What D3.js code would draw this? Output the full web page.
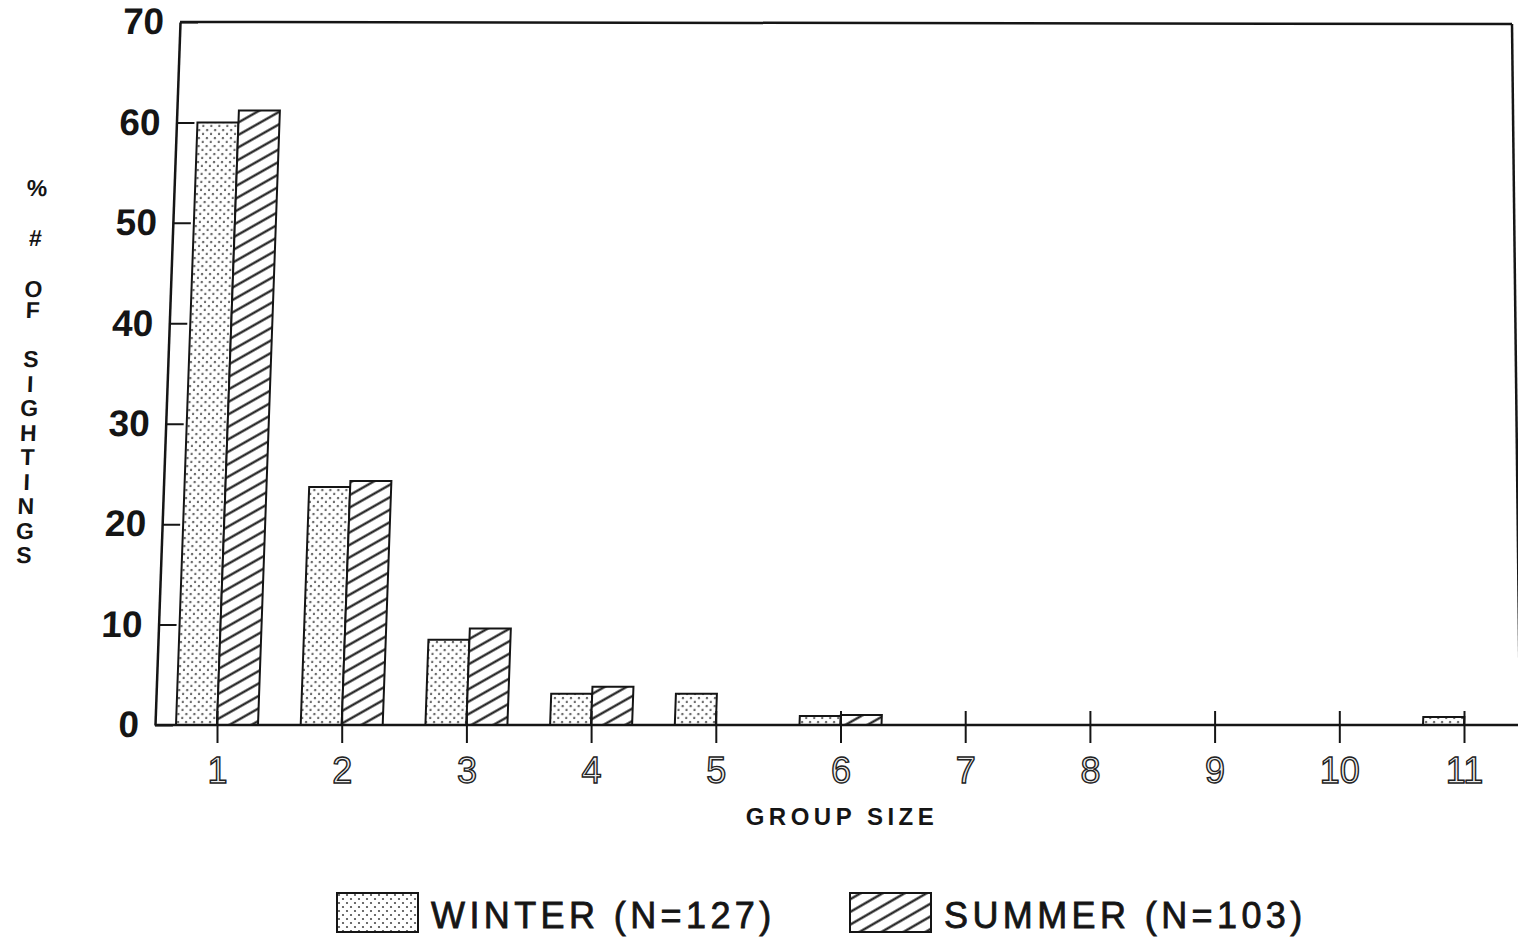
<!DOCTYPE html>
<html>
<head>
<meta charset="utf-8">
<script src="https://cdn.jsdelivr.net/npm/d3@7"></script>
<style>
    body { margin: 0; background: #fff; }
    svg { display: block; }
</style>
</head>
<body>
<div id="chart"></div>
<script>
// ======= Data =======
var groups    = ["1", "2", "3", "4", "5", "6", "7", "8", "9", "10", "11"];
var winterPct = [60.0, 23.7, 8.5, 3.1, 3.1, 0.9, 0, 0, 0, 0, 0.8];
var summerPct = [61.2, 24.3, 9.6, 3.8, 0, 1.0, 0, 0, 0, 0, 0];
var yTicks    = [0, 10, 20, 30, 40, 50, 60, 70];
var yTitle    = ["%", "#", "O", "F", "S", "I", "G", "H", "T", "I", "N", "G", "S"];
var xTitle    = "GROUP SIZE";
var seasons   = ["WINTER (N=127)", "SUMMER (N=103)"];

// ======= Layout =======
var W = 1518, H = 942;
var plotBase = 725, plotTop = 22, plotLeft = 155, plotRight = 1512;
var barW = 41;
var lean = -2.04;   // the scanned original leans a little to the right going up
var font = "'Liberation Sans', Arial, sans-serif";
var ink = "#151515";

var svg = d3.select("#chart").append("svg")
    .attr("width", W)
    .attr("height", H);

// Fill patterns: dots for winter, diagonal hatch for summer
var defs = svg.append("defs");
var dots = defs.append("pattern")
    .attr("id", "dots")
    .attr("patternUnits", "userSpaceOnUse")
    .attr("width", 8).attr("height", 8);
dots.append("rect").attr("width", 8).attr("height", 8).attr("fill", "#fff");
dots.append("circle").attr("cx", 2).attr("cy", 2).attr("r", 1.1).attr("fill", "#4a4a4a");
dots.append("circle").attr("cx", 6).attr("cy", 6).attr("r", 1.1).attr("fill", "#4a4a4a");

var hatch = defs.append("pattern")
    .attr("id", "hatch")
    .attr("patternUnits", "userSpaceOnUse")
    .attr("width", 11).attr("height", 11)
    .attr("patternTransform", "rotate(-30)");
hatch.append("rect").attr("width", 11).attr("height", 11).attr("fill", "#fff");
hatch.append("line")
    .attr("x1", 0).attr("x2", 11).attr("y1", 5.5).attr("y2", 5.5)
    .attr("stroke", ink).attr("stroke-width", 2.2);

var fills = ["url(#dots)", "url(#hatch)"];

// Scales
var x = d3.scalePoint().domain(groups).range([217, 1464]);
var y = d3.scaleLinear().domain([0, 70]).range([plotBase, plotTop]);

// Skewed group (left axis, bars, y title)
var g = svg.append("g")
    .attr("transform", "translate(0," + plotBase + ") skewX(" + lean + ") translate(0," + (-plotBase) + ")");
var shift = Math.tan(-lean * Math.PI / 180) * (plotBase - plotTop);

// Bars
var rows = groups.map(function(d, i) {
    return {group: d, winter: winterPct[i], summer: summerPct[i]};
});

g.selectAll(".winter")
    .data(rows.filter(function(d) { return d.winter > 0; }))
    .enter().append("rect")
    .attr("class", "winter")
    .attr("x", function(d) { return x(d.group) - barW; })
    .attr("y", function(d) { return y(d.winter); })
    .attr("width", barW)
    .attr("height", function(d) { return plotBase - y(d.winter); })
    .attr("fill", fills[0])
    .attr("stroke", ink)
    .attr("stroke-width", 2);

g.selectAll(".summer")
    .data(rows.filter(function(d) { return d.summer > 0; }))
    .enter().append("rect")
    .attr("class", "summer")
    .attr("x", function(d) { return x(d.group); })
    .attr("y", function(d) { return y(d.summer); })
    .attr("width", barW)
    .attr("height", function(d) { return plotBase - y(d.summer); })
    .attr("fill", fills[1])
    .attr("stroke", ink)
    .attr("stroke-width", 2);

// Left axis, ticks pointing inward
var yAxis = g.append("g")
    .attr("transform", "translate(" + plotLeft + ",0)")
    .call(d3.axisLeft(y)
        .tickValues(yTicks)
        .tickSizeInner(-18)
        .tickSizeOuter(0)
        .tickPadding(16));
yAxis.select(".domain").attr("stroke", ink).attr("stroke-width", 2.5);
yAxis.selectAll(".tick line").attr("stroke", ink).attr("stroke-width", 2);
yAxis.selectAll(".tick text")
    .attr("font-family", font)
    .attr("font-size", 37)
    .attr("font-weight", "bold")
    .attr("fill", ink);

// Y title, letters stacked
var titleY = [188, 238, 289, 310, 359, 384, 408, 433, 457, 482, 506, 531, 555];
g.selectAll(".ytitle")
    .data(yTitle)
    .enter().append("text")
    .attr("class", "ytitle")
    .attr("x", 18)
    .attr("y", function(d, i) { return titleY[i]; })
    .attr("dy", "0.36em")
    .attr("text-anchor", "middle")
    .attr("font-family", font)
    .attr("font-size", 23)
    .attr("font-weight", "bold")
    .attr("fill", ink)
    .text(function(d) { return d; });

// Top and right frame lines
svg.append("line")
    .attr("x1", plotLeft + shift).attr("y1", plotTop)
    .attr("x2", plotRight).attr("y2", plotTop + 2)
    .attr("stroke", ink).attr("stroke-width", 2.5);
svg.append("line")
    .attr("x1", plotRight).attr("y1", plotTop + 2)
    .attr("x2", plotRight + 8).attr("y2", plotBase)
    .attr("stroke", ink).attr("stroke-width", 2.5);

// Bottom axis
svg.append("line")
    .attr("x1", plotLeft).attr("y1", plotBase)
    .attr("x2", W).attr("y2", plotBase)
    .attr("stroke", ink).attr("stroke-width", 2.5);

var xAxis = svg.append("g")
    .attr("transform", "translate(0," + plotBase + ")")
    .call(d3.axisBottom(x)
        .tickSizeInner(18)
        .tickSizeOuter(0)
        .tickPadding(14));
xAxis.select(".domain").remove();
xAxis.selectAll(".tick line")
    .attr("y1", -14)
    .attr("stroke", ink)
    .attr("stroke-width", 2);
xAxis.selectAll(".tick text")
    .attr("font-family", font)
    .attr("font-size", 36)
    .attr("fill", "#eeeeee")
    .attr("stroke", "#222")
    .attr("stroke-width", 1.4);

// X title
svg.append("text")
    .attr("x", 842)
    .attr("y", 825)
    .attr("text-anchor", "middle")
    .attr("font-family", font)
    .attr("font-size", 24)
    .attr("font-weight", "bold")
    .attr("letter-spacing", 4.5)
    .attr("fill", ink)
    .text(xTitle);

// Legend
var legendX = [337, 850];
var legend = svg.selectAll(".legend")
    .data(seasons)
    .enter().append("g")
    .attr("class", "legend")
    .attr("transform", function(d, i) { return "translate(" + legendX[i] + ",893)"; });

legend.append("rect")
    .attr("width", 81)
    .attr("height", 39)
    .attr("fill", function(d, i) { return fills[i]; })
    .attr("stroke", ink)
    .attr("stroke-width", 2);

legend.append("text")
    .attr("x", 94)
    .attr("y", 35)
    .attr("font-family", font)
    .attr("font-size", 36)
    .attr("letter-spacing", 4.4)
    .attr("fill", ink)
    .attr("stroke", ink)
    .attr("stroke-width", 0.8)
    .text(function(d) { return d; });
</script>
</body>
</html>
